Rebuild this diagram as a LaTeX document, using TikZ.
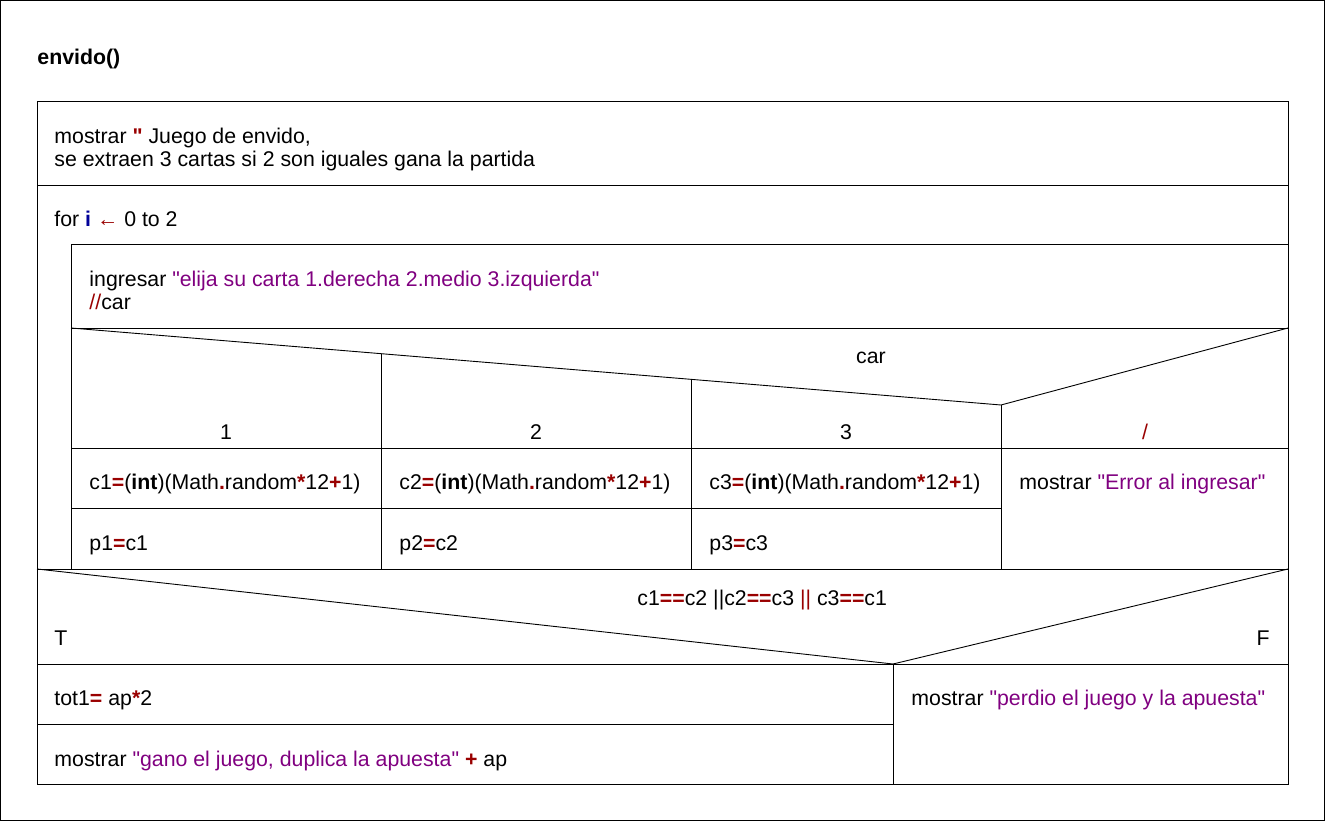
\documentclass[tikz,border=0pt]{standalone}
\usepackage{fontspec}
\setmainfont{Liberation Sans}[Ligatures=TeXOff]
\definecolor{kw}{HTML}{990000}
\definecolor{str}{HTML}{800080}
\definecolor{var}{HTML}{000099}
\newcommand{\kwb}[1]{\textcolor{kw}{\textbf{#1}}}
\newcommand{\strt}[1]{\textcolor{str}{#1}}
\begin{document}
\begin{tikzpicture}[x=1pt,y=-1pt,line width=0.9pt,
  txt/.style={inner sep=0pt,anchor=mid west,font=\fontsize{21.3}{23}\selectfont,align=left},
  ctxt/.style={inner sep=0pt,anchor=mid,font=\fontsize{21.3}{23}\selectfont}]
\useasboundingbox (0,0) rectangle (1325,821);
\draw (0.5,0.5) rectangle (1324.5,820.5);
% main box
\draw (37,101) rectangle (1288,784);
\draw (37,185) -- (1288,185);
\draw (71,244) -- (1288,244);
\draw (71,244) -- (71,569);
\draw (71,328) -- (1288,328);
% case header
\draw (71,328) -- (1001,405) -- (1288,328);
\draw (381,354) -- (381,569);
\draw (691,379) -- (691,569);
\draw (1001,405) -- (1001,569);
\draw (71,448) -- (1288,448);
\draw (71,508) -- (1001,508);
\draw (37,569) -- (1288,569);
% if header
\draw (37,569) -- (893,664) -- (1288,569);
\draw (37,664) -- (1288,664);
\draw (893,664) -- (893,784);
\draw (37,724) -- (893,724);
% texts
\node[txt,font=\fontsize{21.3}{23}\selectfont\bfseries] (title) at (37,62) {envido()};
\node[txt,anchor=north west] (m1) at (54,128) {mostrar \kwb{"} Juego de envido,\\se extraen 3 cartas si 2 son iguales gana la partida};
\node[txt] (for) at (54,224) {for \textcolor{var}{\textbf{i}} \textcolor{kw}{←} 0 to 2};
\node[txt,anchor=north west] (ing) at (89,271) {ingresar \strt{"elija su carta 1.derecha 2.medio 3.izquierda"}\\\textcolor{kw}{//}car};
\node[ctxt] (car) at (871,361) {car};
\node[ctxt] (k1) at (226,437) {1};
\node[ctxt] (k2) at (536,437) {2};
\node[ctxt] (k3) at (846,437) {3};
\node[ctxt] (kd) at (1145,437) {\textcolor{kw}{/}};
\node[txt] (c1) at (89,487) {c1\kwb{=}(\textbf{int})(Math\kwb{.}random\kwb{*}12\kwb{+}1)};
\node[txt] (c2) at (399,487) {c2\kwb{=}(\textbf{int})(Math\kwb{.}random\kwb{*}12\kwb{+}1)};
\node[txt] (c3) at (709,487) {c3\kwb{=}(\textbf{int})(Math\kwb{.}random\kwb{*}12\kwb{+}1)};
\node[txt] (err) at (1019,487) {mostrar \strt{"Error al ingresar"}};
\node[txt] (p1) at (89,548) {p1\kwb{=}c1};
\node[txt] (p2) at (399,548) {p2\kwb{=}c2};
\node[txt] (p3) at (709,548) {p3\kwb{=}c3};
\node[txt] (cond) at (637,603) {c1\kwb{==}c2 ||c2\kwb{==}c3 \textcolor{kw}{||} c3\kwb{==}c1};
\node[txt] (T) at (54,643) {T};
\node[txt,anchor=mid east] (F) at (1270,643) {F};
\node[txt] (tot) at (54,703) {tot1\kwb{=} ap\kwb{*}2};
\node[txt] (gano) at (54,764) {mostrar \strt{"gano el juego, duplica la apuesta"} \kwb{+} ap};
\node[txt] (perd) at (911,703) {mostrar \strt{"perdio el juego y la apuesta"}};
\end{tikzpicture}
\end{document}
